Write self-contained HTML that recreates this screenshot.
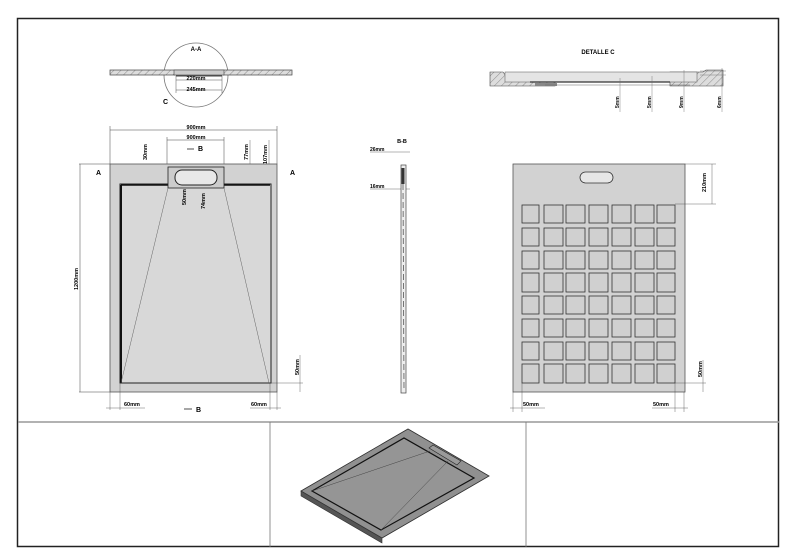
<!DOCTYPE html>
<html><head><meta charset="utf-8"><style>
html,body{margin:0;padding:0;background:#fff;}
svg{display:block;font-family:"Liberation Sans",sans-serif;}
</style></head><body>
<svg width="788" height="551" viewBox="0 0 788 551" xmlns="http://www.w3.org/2000/svg">
<defs>
<pattern id="h" width="5" height="5" patternUnits="userSpaceOnUse" patternTransform="rotate(45)">
<rect width="5" height="5" fill="#ddd"/><line x1="0" y1="0" x2="0" y2="5" stroke="#777" stroke-width="0.8"/></pattern>
</defs>
<rect x="0" y="0" width="788" height="551" fill="#fff"/>
<!-- frame -->
<rect x="17.5" y="18.5" width="761" height="528" fill="none" stroke="#222" stroke-width="1.5"/>
<line x1="18" y1="422" x2="779" y2="422" stroke="#999" stroke-width="1.5"/>
<line x1="270" y1="422" x2="270" y2="547" stroke="#777" stroke-width="0.8"/>
<line x1="526" y1="422" x2="526" y2="547" stroke="#777" stroke-width="0.8"/>

<!-- A-A section -->
<circle cx="196" cy="75" r="32" fill="none" stroke="#777" stroke-width="0.8"/>
<text x="196" y="51" font-size="6" text-anchor="middle" font-weight="bold">A-A</text>
<rect x="110" y="70" width="182" height="5" fill="url(#h)" stroke="#444" stroke-width="0.7"/>
<rect x="174" y="70" width="50" height="5" fill="#ccc" stroke="#444" stroke-width="0.6"/>
<line x1="176" y1="76" x2="222" y2="76" stroke="#444" stroke-width="1"/>
<line x1="176" y1="80" x2="222" y2="80" stroke="#555" stroke-width="0.5"/>
<line x1="176" y1="90" x2="222" y2="90" stroke="#555" stroke-width="0.5"/>
<line x1="176" y1="76" x2="176" y2="93" stroke="#555" stroke-width="0.5"/>
<line x1="222" y1="76" x2="222" y2="93" stroke="#555" stroke-width="0.5"/>
<text x="196" y="80" font-size="5.5" text-anchor="middle" font-weight="bold">220mm</text>
<text x="196" y="91" font-size="5.5" text-anchor="middle" font-weight="bold">245mm</text>
<text x="163" y="104" font-size="7" font-weight="bold">C</text>

<!-- left plan dims -->
<line x1="110" y1="130" x2="277" y2="130" stroke="#444" stroke-width="0.5"/>
<line x1="110" y1="126" x2="110" y2="164" stroke="#444" stroke-width="0.5"/>
<line x1="277" y1="126" x2="277" y2="164" stroke="#444" stroke-width="0.5"/>
<text x="196" y="129" font-size="5.5" text-anchor="middle" font-weight="bold">900mm</text>
<line x1="167" y1="140" x2="224" y2="140" stroke="#444" stroke-width="0.5"/>
<line x1="167" y1="137" x2="167" y2="170" stroke="#444" stroke-width="0.5"/>
<line x1="224" y1="137" x2="224" y2="170" stroke="#444" stroke-width="0.5"/>
<text x="196" y="139" font-size="5.5" text-anchor="middle" font-weight="bold">900mm</text>
<text x="198" y="151" font-size="7" font-weight="bold">B</text>
<line x1="187" y1="149" x2="194" y2="149" stroke="#222" stroke-width="0.8"/>
<text x="147" y="160" font-size="5.5" font-weight="bold" transform="rotate(-90 147 160)">30mm</text>
<line x1="148" y1="170" x2="255" y2="170" stroke="#444" stroke-width="0.4"/>
<text x="248" y="160" font-size="5.5" font-weight="bold" transform="rotate(-90 248 160)">77mm</text>
<text x="267" y="164" font-size="5.5" font-weight="bold" transform="rotate(-90 267 164)">107mm</text>
<line x1="250" y1="140" x2="250" y2="184" stroke="#444" stroke-width="0.4"/>
<line x1="269" y1="140" x2="269" y2="184" stroke="#444" stroke-width="0.4"/>
<text x="96" y="175" font-size="7" font-weight="bold">A</text>
<text x="290" y="175" font-size="7" font-weight="bold">A</text>
<line x1="79" y1="164" x2="110" y2="164" stroke="#444" stroke-width="0.5"/>
<line x1="79" y1="392" x2="110" y2="392" stroke="#444" stroke-width="0.5"/>
<line x1="80" y1="164" x2="80" y2="392" stroke="#444" stroke-width="0.5"/>
<text x="78" y="290" font-size="5.5" font-weight="bold" transform="rotate(-90 78 290)">1200mm</text>

<!-- left plan -->
<rect x="110" y="164" width="167" height="228" fill="#d2d2d2" stroke="#555" stroke-width="0.8"/>
<rect x="120" y="184" width="151" height="199" fill="#d8d8d8" stroke="#222" stroke-width="1"/>
<line x1="121" y1="185" x2="121" y2="383" stroke="#111" stroke-width="2"/>
<line x1="121" y1="185" x2="270" y2="185" stroke="#111" stroke-width="1.5"/>
<rect x="168" y="167" width="56" height="21" fill="#ccc" stroke="#222" stroke-width="0.8"/>
<rect x="175" y="170" width="42" height="15" rx="7" fill="#e8e8e8" stroke="#222" stroke-width="1"/>
<line x1="168" y1="188" x2="121" y2="383" stroke="#666" stroke-width="0.5"/>
<line x1="224" y1="188" x2="269" y2="383" stroke="#666" stroke-width="0.5"/>
<text x="186" y="205" font-size="5.5" font-weight="bold" transform="rotate(-90 186 205)">50mm</text>
<text x="205" y="209" font-size="5.5" font-weight="bold" transform="rotate(-90 205 209)">74mm</text>
<line x1="270" y1="383" x2="303" y2="383" stroke="#444" stroke-width="0.4"/>
<line x1="300" y1="355" x2="300" y2="392" stroke="#444" stroke-width="0.4"/>
<text x="299" y="375" font-size="5.5" font-weight="bold" transform="rotate(-90 299 375)">50mm</text>
<line x1="110" y1="392" x2="110" y2="410" stroke="#444" stroke-width="0.4"/>
<line x1="120" y1="383" x2="120" y2="410" stroke="#444" stroke-width="0.4"/>
<line x1="270" y1="383" x2="270" y2="410" stroke="#444" stroke-width="0.4"/>
<line x1="277" y1="392" x2="277" y2="410" stroke="#444" stroke-width="0.4"/>
<line x1="106" y1="408" x2="145" y2="408" stroke="#444" stroke-width="0.4"/>
<line x1="250" y1="408" x2="281" y2="408" stroke="#444" stroke-width="0.4"/>
<text x="124" y="406" font-size="5.5" font-weight="bold">60mm</text>
<text x="251" y="406" font-size="5.5" font-weight="bold">60mm</text>
<line x1="184" y1="409" x2="192" y2="409" stroke="#222" stroke-width="0.8"/>
<text x="196" y="412" font-size="7" font-weight="bold">B</text>

<!-- B-B -->
<text x="402" y="143" font-size="5.5" text-anchor="middle" font-weight="bold">B-B</text>
<line x1="370" y1="152" x2="410" y2="152" stroke="#444" stroke-width="0.4"/>
<line x1="370" y1="189" x2="410" y2="189" stroke="#444" stroke-width="0.4"/>
<text x="370" y="151" font-size="5" font-weight="bold">26mm</text>
<text x="370" y="188" font-size="5" font-weight="bold">16mm</text>
<rect x="401" y="165" width="5" height="228" fill="#eee" stroke="#444" stroke-width="0.7"/>
<rect x="401.5" y="168" width="3" height="16" fill="#333"/>
<line x1="403" y1="184" x2="404" y2="390" stroke="#555" stroke-width="0.8" stroke-dasharray="6 3"/>

<!-- Detalle C -->
<text x="598" y="54" font-size="6" text-anchor="middle" font-weight="bold">DETALLE    C</text>
<path d="M490 72 H503 L506 76 H525 L530 82 H555 V86 H490 Z" fill="url(#h)" stroke="#444" stroke-width="0.6"/>
<path d="M670 72 H703 L706 70 H723 V86 H670 Z" fill="url(#h)" stroke="#444" stroke-width="0.6"/>
<rect x="505" y="72" width="192" height="10" fill="#e4e4e4" stroke="#555" stroke-width="0.5"/>
<line x1="530" y1="82" x2="670" y2="82" stroke="#333" stroke-width="1.2"/>
<rect x="535" y="83" width="22" height="3" fill="#888"/>
<line x1="545" y1="85" x2="690" y2="85" stroke="#666" stroke-width="0.6"/>
<line x1="620" y1="78" x2="620" y2="112" stroke="#666" stroke-width="0.4"/>
<line x1="652" y1="76" x2="652" y2="112" stroke="#666" stroke-width="0.4"/>
<line x1="684" y1="70" x2="684" y2="112" stroke="#666" stroke-width="0.4"/>
<line x1="722" y1="68" x2="722" y2="112" stroke="#666" stroke-width="0.4"/>
<line x1="700" y1="71" x2="726" y2="71" stroke="#666" stroke-width="0.4"/>
<line x1="700" y1="75" x2="726" y2="75" stroke="#666" stroke-width="0.4"/>
<text x="619" y="108" font-size="5" font-weight="bold" transform="rotate(-90 619 108)">5mm</text>
<text x="651" y="108" font-size="5" font-weight="bold" transform="rotate(-90 651 108)">5mm</text>
<text x="683" y="108" font-size="5" font-weight="bold" transform="rotate(-90 683 108)">9mm</text>
<text x="721" y="108" font-size="5" font-weight="bold" transform="rotate(-90 721 108)">6mm</text>

<!-- grid plate -->
<rect x="513" y="164" width="172" height="228" fill="#d2d2d2" stroke="#555" stroke-width="0.8"/>
<rect x="580" y="172" width="33" height="11" rx="5.5" fill="#e6e6e6" stroke="#333" stroke-width="0.8"/>
<g fill="#d0d0d0" stroke="#333" stroke-width="0.8">
<rect x="522" y="205" width="17" height="18"/><rect x="544" y="205" width="19" height="18"/><rect x="566" y="205" width="19" height="18"/><rect x="589" y="205" width="19" height="18"/><rect x="612" y="205" width="19" height="18"/><rect x="635" y="205" width="19" height="18"/><rect x="657" y="205" width="18" height="18"/>
<rect x="522" y="228" width="17" height="18"/><rect x="544" y="228" width="19" height="18"/><rect x="566" y="228" width="19" height="18"/><rect x="589" y="228" width="19" height="18"/><rect x="612" y="228" width="19" height="18"/><rect x="635" y="228" width="19" height="18"/><rect x="657" y="228" width="18" height="18"/>
<rect x="522" y="251" width="17" height="18"/><rect x="544" y="251" width="19" height="18"/><rect x="566" y="251" width="19" height="18"/><rect x="589" y="251" width="19" height="18"/><rect x="612" y="251" width="19" height="18"/><rect x="635" y="251" width="19" height="18"/><rect x="657" y="251" width="18" height="18"/>
<rect x="522" y="273" width="17" height="19"/><rect x="544" y="273" width="19" height="19"/><rect x="566" y="273" width="19" height="19"/><rect x="589" y="273" width="19" height="19"/><rect x="612" y="273" width="19" height="19"/><rect x="635" y="273" width="19" height="19"/><rect x="657" y="273" width="18" height="19"/>
<rect x="522" y="296" width="17" height="18"/><rect x="544" y="296" width="19" height="18"/><rect x="566" y="296" width="19" height="18"/><rect x="589" y="296" width="19" height="18"/><rect x="612" y="296" width="19" height="18"/><rect x="635" y="296" width="19" height="18"/><rect x="657" y="296" width="18" height="18"/>
<rect x="522" y="319" width="17" height="18"/><rect x="544" y="319" width="19" height="18"/><rect x="566" y="319" width="19" height="18"/><rect x="589" y="319" width="19" height="18"/><rect x="612" y="319" width="19" height="18"/><rect x="635" y="319" width="19" height="18"/><rect x="657" y="319" width="18" height="18"/>
<rect x="522" y="342" width="17" height="18"/><rect x="544" y="342" width="19" height="18"/><rect x="566" y="342" width="19" height="18"/><rect x="589" y="342" width="19" height="18"/><rect x="612" y="342" width="19" height="18"/><rect x="635" y="342" width="19" height="18"/><rect x="657" y="342" width="18" height="18"/>
<rect x="522" y="364" width="17" height="19"/><rect x="544" y="364" width="19" height="19"/><rect x="566" y="364" width="19" height="19"/><rect x="589" y="364" width="19" height="19"/><rect x="612" y="364" width="19" height="19"/><rect x="635" y="364" width="19" height="19"/><rect x="657" y="364" width="18" height="19"/>
</g>
<line x1="685" y1="164" x2="716" y2="164" stroke="#444" stroke-width="0.4"/>
<line x1="675" y1="204" x2="716" y2="204" stroke="#444" stroke-width="0.4"/>
<line x1="712" y1="164" x2="712" y2="204" stroke="#444" stroke-width="0.4"/>
<text x="706" y="192" font-size="5.5" font-weight="bold" transform="rotate(-90 706 192)">210mm</text>
<line x1="675" y1="383" x2="706" y2="383" stroke="#444" stroke-width="0.4"/>
<line x1="703" y1="360" x2="703" y2="392" stroke="#444" stroke-width="0.4"/>
<text x="702" y="377" font-size="5.5" font-weight="bold" transform="rotate(-90 702 377)">50mm</text>
<line x1="513" y1="392" x2="513" y2="412" stroke="#444" stroke-width="0.4"/>
<line x1="522" y1="383" x2="522" y2="412" stroke="#444" stroke-width="0.4"/>
<line x1="675" y1="383" x2="675" y2="412" stroke="#444" stroke-width="0.4"/>
<line x1="684" y1="392" x2="684" y2="412" stroke="#444" stroke-width="0.4"/>
<line x1="510" y1="408" x2="545" y2="408" stroke="#444" stroke-width="0.4"/>
<line x1="652" y1="408" x2="688" y2="408" stroke="#444" stroke-width="0.4"/>
<text x="523" y="406" font-size="5.5" font-weight="bold">50mm</text>
<text x="653" y="406" font-size="5.5" font-weight="bold">50mm</text>

<!-- isometric -->
<polygon points="301,491 408,429 489,476 382,538 382,543 301,496" fill="#555" stroke="#333" stroke-width="0.6"/>
<polygon points="301,491 408,429 489,476 382,538" fill="#909090" stroke="#333" stroke-width="0.8"/>
<polygon points="312,491 404,438 474,478 381,530" fill="#959595" stroke="#111" stroke-width="1.2"/>
<polygon points="429,448 433,445 461,461 457,465" fill="#9a9a9a" stroke="#222" stroke-width="0.6"/>
<line x1="312" y1="491" x2="430" y2="451" stroke="#444" stroke-width="0.5"/>
<line x1="381" y1="530" x2="448" y2="461" stroke="#444" stroke-width="0.5"/>
</svg>
</body></html>
